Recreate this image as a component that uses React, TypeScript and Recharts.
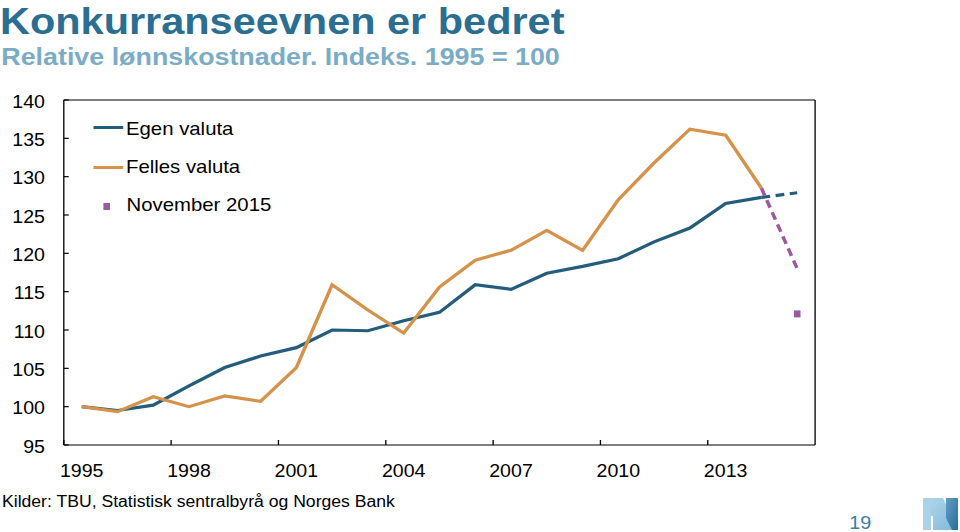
import React from 'react';
import { LineChart, Line, XAxis, YAxis, ReferenceLine, Legend } from 'recharts';

const years = [1995, 1996, 1997, 1998, 1999, 2000, 2001, 2002, 2003, 2004, 2005, 2006, 2007, 2008, 2009, 2010, 2011, 2012, 2013, 2014, 2015];
const egenValuta = [100, 99.5, 100.2, 102.7, 105.1, 106.6, 107.7, 110.0, 109.9, 111.2, 112.3, 115.9, 115.3, 117.4, 118.3, 119.3, 121.5, 123.3, 126.5, 127.3, null];
const egenValutaAnslag = [null, null, null, null, null, null, null, null, null, null, null, null, null, null, null, null, null, null, null, 127.3, 127.9];
const fellesValuta = [100, 99.35, 101.3, 100.0, 101.4, 100.7, 105.1, 115.9, 112.6, 109.6, 115.6, 119.1, 120.4, 123.0, 120.4, 127.0, 131.8, 136.2, 135.4, 128.5, null];
const fellesValutaAnslag = [null, null, null, null, null, null, null, null, null, null, null, null, null, null, null, null, null, null, null, 128.5, 118.0];
const november2015 = [null, null, null, null, null, null, null, null, null, null, null, null, null, null, null, null, null, null, null, null, 112.1];
const yTicks = [95, 100, 105, 110, 115, 120, 125, 130, 135, 140];
const xLabels = [1995, 1998, 2001, 2004, 2007, 2010, 2013];

const data = years.map((year, i) => ({
    year,
    egen: egenValuta[i],
    egenAnslag: egenValutaAnslag[i],
    felles: fellesValuta[i],
    fellesAnslag: fellesValutaAnslag[i],
    nov: november2015[i],
}));

const FONT = '"Liberation Sans", Arial, sans-serif';
const BLUE = '#245d7c';
const ORANGE = '#d5924a';
const PURPLE = '#9a5aa0';
const TITLE_BLUE = '#2a6e92';

// the reference is stretched horizontally, so everything is drawn narrow and scaled
const STRETCH = 1.1;
const CW = 873;
const PLOT_L = 58;
const PLOT_R = 741;
const HALF_BAND = (PLOT_R - PLOT_L) / years.length / 2;

function XTick(props: any) {
    const { x, y, payload } = props;
    return (
        <g>
            <line x1={x - HALF_BAND} x2={x - HALF_BAND} y1={y} y2={y - 5} stroke="#000" strokeWidth={1.2} />
            <text x={x} y={y + 31.7} textAnchor="middle" fontSize={17.8} fill="#000" fontFamily={FONT}>
                {payload.value}
            </text>
        </g>
    );
}

function NovDot(props: any) {
    const { cx, cy, value, index } = props;
    if (value == null || cy == null) return <g key={index} />;
    return <rect key={index} x={cx - 3} y={cy - 3.5} width={6} height={7} fill={PURPLE} />;
}

function LegendBox() {
    const text: React.CSSProperties = {
        position: 'absolute',
        left: 30.5,
        fontSize: 18.5,
        lineHeight: 1,
        fontFamily: FONT,
        color: '#000',
        whiteSpace: 'nowrap',
    };
    return (
        <div style={{ position: 'relative', width: 200, height: 115 }}>
            <div style={{ position: 'absolute', left: 0.5, top: 17.8, width: 27.3, height: 3, background: BLUE }} />
            <div style={{ ...text, top: 12.3 }}>Egen valuta</div>
            <div style={{ position: 'absolute', left: 0.5, top: 57.8, width: 27.3, height: 3, background: ORANGE }} />
            <div style={{ ...text, top: 50 }}>Felles valuta</div>
            <div style={{ position: 'absolute', left: 10.3, top: 95.2, width: 6, height: 7, background: PURPLE }} />
            <div style={{ ...text, left: 31, top: 87.5 }}>November 2015</div>
        </div>
    );
}

function NbLogo() {
    return (
        <svg width={960} height={532} style={{ position: 'absolute', left: 0, top: 0 }}>
            <defs>
                <linearGradient id="nbRight" x1="0" y1="0" x2="1" y2="1">
                    <stop offset="0%" stopColor="#5d9fc6" />
                    <stop offset="100%" stopColor="#2c6d97" />
                </linearGradient>
                <linearGradient id="nbLeft" x1="0" y1="0" x2="1" y2="1">
                    <stop offset="0%" stopColor="#b2d8ea" />
                    <stop offset="100%" stopColor="#7fb9d8" />
                </linearGradient>
            </defs>
            <polygon points="923,498 943,498 958,530 933,530 933,516 923,516" fill="url(#nbLeft)" />
            <rect x={923} y={498} width={8} height={32} fill="#a9d2e7" />
            <polygon points="946,498 958,498 958,530 952,530 946,518" fill="url(#nbRight)" />
        </svg>
    );
}

export default function App() {
    return (
        <div style={{ position: 'absolute', left: 0, top: 0, width: 960, height: 532, overflow: 'hidden', background: '#fff' }}>
            <div
                style={{
                    position: 'absolute',
                    left: 0,
                    top: 0,
                    width: CW,
                    height: 532,
                    transform: `scaleX(${STRETCH})`,
                    transformOrigin: '0 0',
                }}
            >
                <div style={{ position: 'absolute', left: 0, top: 0, fontFamily: FONT, fontWeight: 'bold', fontSize: 37.7, lineHeight: 1.12, color: TITLE_BLUE, whiteSpace: 'nowrap' }}>
                    Konkurranseevnen er bedret
                </div>
                <div style={{ position: 'absolute', left: 1.2, top: 45.4, fontFamily: FONT, fontWeight: 'bold', fontSize: 24.4, lineHeight: 1, color: '#7aacc6', whiteSpace: 'nowrap' }}>
                    Relative lønnskostnader. Indeks. 1995 = 100
                </div>

                <LineChart width={CW} height={532} data={data} margin={{ top: 100, right: 72, bottom: 47, left: 0 }}>
                    <XAxis
                        xAxisId="x"
                        dataKey="year"
                        type="number"
                        domain={[1994.5, 2015.5]}
                        ticks={xLabels}
                        interval={0}
                        height={40}
                        tickLine={false}
                        tickSize={0}
                        tickMargin={0}
                        axisLine={{ stroke: '#000', strokeWidth: 1.2 }}
                        tick={<XTick />}
                    />
                    <YAxis
                        yAxisId="left"
                        orientation="left"
                        type="number"
                        domain={[95, 140]}
                        ticks={yTicks}
                        interval={0}
                        width={PLOT_L}
                        tickSize={-4.5}
                        tickMargin={21.6}
                        axisLine={{ stroke: '#000', strokeWidth: 1.2 }}
                        tickLine={{ stroke: '#000', strokeWidth: 1.2 }}
                        tick={{ fontSize: 17.8, fill: '#000', fontFamily: FONT, dy: 1.5 }}
                    />
                    <YAxis
                        yAxisId="right"
                        orientation="right"
                        type="number"
                        domain={[95, 140]}
                        ticks={yTicks}
                        interval={0}
                        width={60}
                        tickSize={-4.5}
                        tickMargin={22}
                        axisLine={{ stroke: '#000', strokeWidth: 1.2 }}
                        tickLine={{ stroke: '#000', strokeWidth: 1.2 }}
                        tick={{ fontSize: 17.8, fill: '#000', fontFamily: FONT, dy: 1.5 }}
                    />
                    <ReferenceLine xAxisId="x" yAxisId="left" y={140} stroke="#000" strokeWidth={1.2} />

                    <Legend
                        layout="vertical"
                        align="center"
                        verticalAlign="middle"
                        wrapperStyle={{ left: 84, top: 108, width: 200, height: 115 }}
                        content={() => <LegendBox />}
                    />

                    <Line xAxisId="x" yAxisId="left" type="linear" dataKey="egen" stroke={BLUE} strokeWidth={3.2} dot={false} isAnimationActive={false} />
                    <Line xAxisId="x" yAxisId="left" type="linear" dataKey="egenAnslag" stroke={BLUE} strokeWidth={3.2} strokeDasharray="8 5" dot={false} isAnimationActive={false} />
                    <Line xAxisId="x" yAxisId="left" type="linear" dataKey="felles" stroke={ORANGE} strokeWidth={3.2} dot={false} isAnimationActive={false} />
                    <Line xAxisId="x" yAxisId="left" type="linear" dataKey="fellesAnslag" stroke={PURPLE} strokeWidth={3.2} strokeDasharray="8 5" dot={false} isAnimationActive={false} />
                    <Line xAxisId="x" yAxisId="left" type="linear" dataKey="nov" stroke="none" dot={<NovDot />} activeDot={false} isAnimationActive={false} />
                </LineChart>

                <div style={{ position: 'absolute', left: 1.8, top: 493.8, fontFamily: FONT, fontSize: 16, lineHeight: 1, color: '#000', whiteSpace: 'nowrap' }}>
                    Kilder: TBU, Statistisk sentralbyrå og Norges Bank
                </div>
                <div style={{ position: 'absolute', left: 772, top: 514, fontFamily: FONT, fontSize: 18, lineHeight: 1, color: '#3a7ea0', whiteSpace: 'nowrap' }}>
                    19
                </div>
            </div>
            <NbLogo />
        </div>
    );
}
